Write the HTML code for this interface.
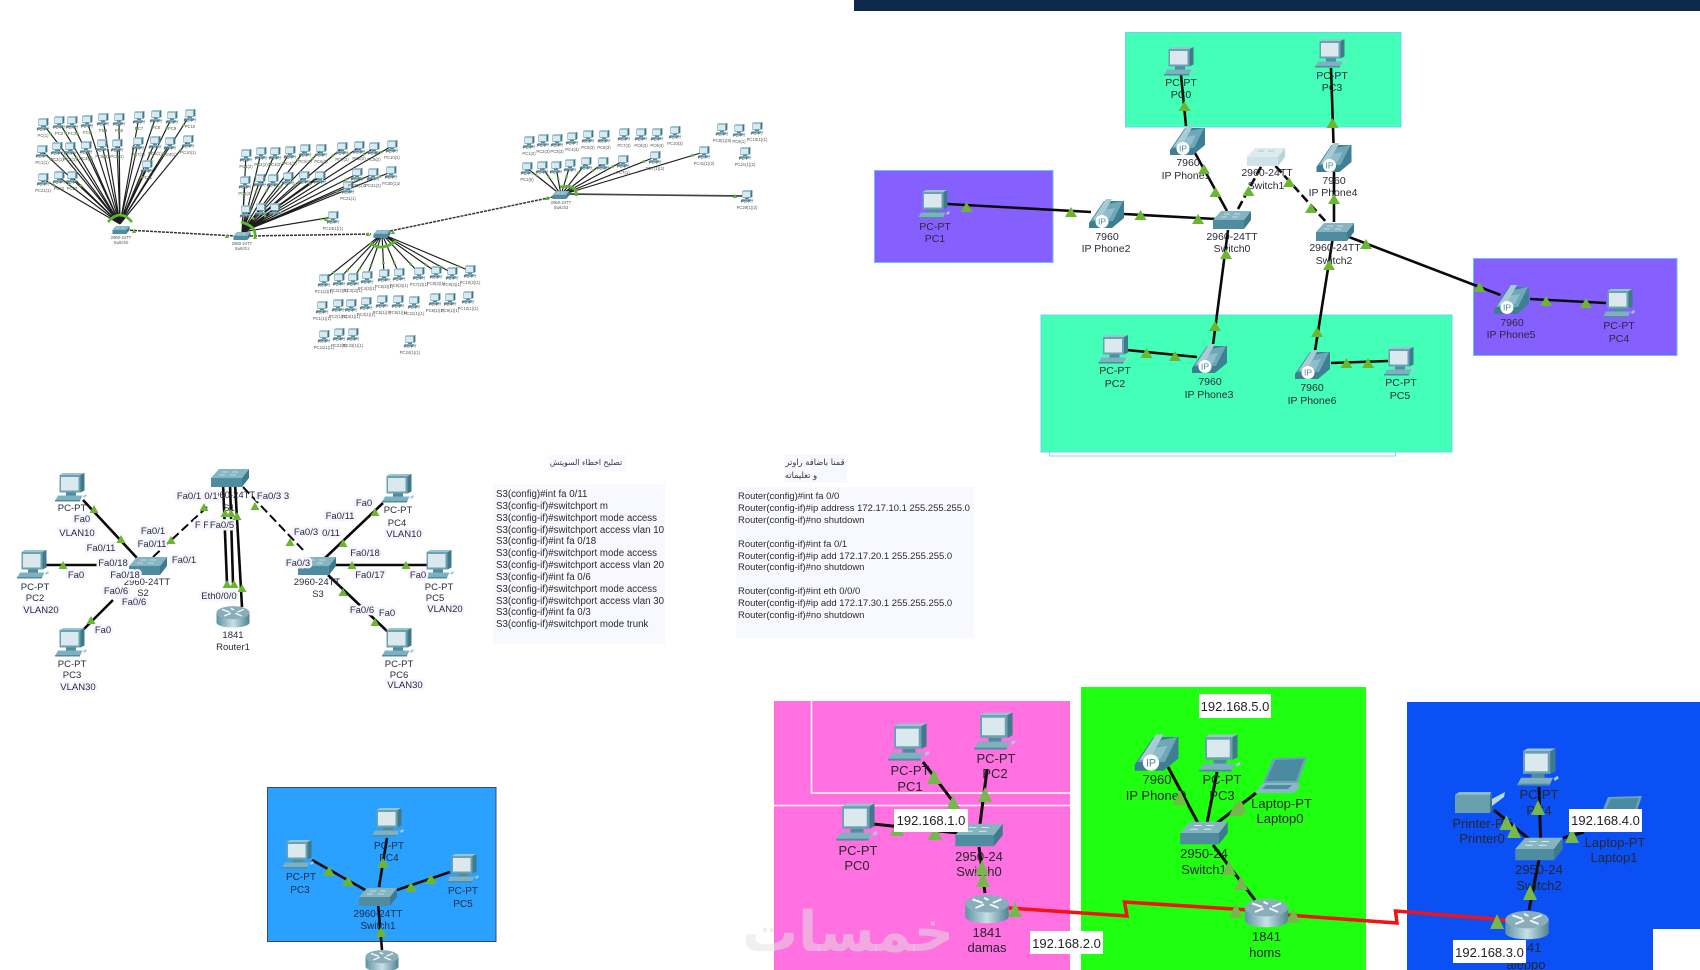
<!DOCTYPE html>
<html lang="en"><head><meta charset="utf-8"><title>Network diagrams</title>
<style>
html,body{margin:0;padding:0;background:#fff;width:1700px;height:970px;overflow:hidden}
svg{display:block;font-family:"Liberation Sans",sans-serif}
.l{fill:none;stroke:#0a0a0a;stroke-width:2.6;stroke-linecap:butt}
.d{stroke-dasharray:9 4}
.a text{font-size:10.5px;text-anchor:middle;fill:#2a2a3a}
.n text{font-size:9.5px;text-anchor:middle;fill:#2a2a3a}
.b text{font-size:9.5px;text-anchor:middle;fill:#2a2a3a;paint-order:stroke;stroke:#f5f5ff;stroke-width:5px;stroke-linejoin:round}
.c text{font-size:13px;text-anchor:middle;fill:#26262e}
.e text{font-size:10px;text-anchor:middle;fill:#1c2c44}
.s text{font-size:4.2px;text-anchor:middle;fill:#555}
.m text{font-size:9.7px;fill:#2a2a2a}
.m2 text{font-size:9.45px;fill:#2a2a2a}
.ip text{font-size:13px;text-anchor:middle;fill:#222}
.ip rect{fill:#fff}
.g use{fill:#6cb52e}
.g2 use{fill:#76b84c}
.ar{font-family:"DejaVu Sans","Liberation Sans",sans-serif;fill:#333}
</style></head><body>
<svg width="1700" height="970" viewBox="0 0 1700 970" xmlns="http://www.w3.org/2000/svg">
<defs>
<linearGradient id="rg" x1="0" x2="1" y1="0" y2="0"><stop offset="0" stop-color="#5f93a3"/><stop offset=".5" stop-color="#c9e0e6"/><stop offset="1" stop-color="#4f8394"/></linearGradient>
<polygon id="t" points="-6,5 6,5 0,-5"/>
<polygon id="tm" points="-4.500,4 4.500,4 0,-4"/>
<polygon id="t5" points="-7,7 7,7 0,-8"/>
<polygon id="ts" points="-2.200,2 2.200,2 0,-2" fill="#5cb531"/>
<g id="pc">
<polygon points="-11.500,-13 -8,-15 13.500,-15 9.500,-13" fill="#9cc3cd"/>
<polygon points="9.500,-13 13.500,-15 13.500,2.500 9.500,4.500" fill="#3f7a8c"/>
<rect x="-11.500" y="-13" width="21" height="17.500" fill="#6aa2b2"/>
<rect x="-10" y="-11" width="17.500" height="13.500" fill="#dbe8ee"/>
<rect x="-5" y="4.500" width="10" height="3" fill="#4f8ca0"/>
<polygon points="-13,7.500 11.500,7.500 9,13 -16,13" fill="#7fb0bf"/>
<rect x="-16" y="12" width="25" height="1.500" fill="#4f8ca0"/>
<polygon points="12,8 15,6 16,8 13,10" fill="#a9cbd4"/>
</g>
<g id="sp"><use href="#pc" transform="scale(.4)"/></g>
<g id="ph">
<polygon points="-17,10 -2,-12 18,-12 18,5 6,15 -17,15" fill="#3f7f93"/>
<polygon points="-3,-8 17,-12 7,8 -15,8" fill="#6ea8b8"/>
<path d="M-2,-3 L9,-5 L4,5 L-7,6Z" fill="#8fbdca"/>
<polygon points="-13,6 0,-14 6,-14 -6,7" fill="#a8ccd6"/>
<circle cx="-4" cy="8.500" r="6.500" fill="#fff"/>
<text x="-4" y="11.500" font-size="8.500" text-anchor="middle" fill="#4c8b9e">IP</text>
</g>
<g id="sw">
<polygon points="-19,0 -11,-9 19,-9 12,0" fill="#86b5c2"/>
<polygon points="12,0 19,-9 19,0 12,9" fill="#3e7a8e"/>
<rect x="-19" y="0" width="31" height="9" fill="#4f8ca0"/>
<path d="M-8,-6 h6 M2,-6 h6 M-11,-3 h6 M0,-3 h6" stroke="#d8e8ec" stroke-width=".8"/>
</g>
<g id="swp">
<polygon points="-19,0 -11,-9 19,-9 12,0" fill="#dcebee"/>
<polygon points="12,0 19,-9 19,0 12,9" fill="#b9d4da"/>
<rect x="-19" y="0" width="31" height="9" fill="#cfe2e6"/>
<path d="M-8,-6 h6 M2,-6 h6" stroke="#9fbfc7" stroke-width=".8"/>
</g>
<g id="ss"><use href="#sw" transform="scale(.45)"/></g>
<g id="ro">
<rect x="-15" y="-3" width="30" height="9" fill="url(#rg)"/>
<ellipse cx="0" cy="6" rx="15" ry="4.500" fill="url(#rg)"/>
<ellipse cx="0" cy="-3" rx="15" ry="6" fill="#89aeba"/>
<path d="M-10,-6 L-3,-3.500 M10,-6 L4,-3.500 M-8,0 L-2,-2.500 M8,0 L2,-2.500 M-2,-7 L1,-5.500" stroke="#f2f7f8" stroke-width="1.300"/>
</g>
<g id="lap">
<polygon points="-7,-17 27,-18 18,8 -17,8" fill="#6aa5b6"/>
<polygon points="-4.500,-15 24,-16 16,6 -14,6" fill="#4a8ba1"/>
<polygon points="-17,8 18,8 20,13 13,18 -25,18" fill="#8ab9c5"/>
<polygon points="-14,10 12,10 8,14 -18,14" fill="#4f8ca0"/>
</g>
<g id="pr">
<polygon points="-20,-8 -16,-11 16,-11 15,-8" fill="#8dbac6"/>
<rect x="-20" y="-8" width="35" height="18" fill="#6a9fae"/>
<polygon points="15,-8 17,-11 17,8 15,10" fill="#3c7688"/>
<polygon points="17,-4 30,-11 29,-6 17,3" fill="#b9d8df"/>
</g>
<path id="cl" d="M43,124L120,224M59,122L120,224M72,122L120,224M87,121L120,224M103,119L120,224M119,119L120,224M139,117L120,224M156,116L120,224M172,117L120,224M190,115L120,224M42,151L120,224M57,148L120,224M70,148L120,224M86,147L120,224M102,145L120,224M117,145L120,224M138,143L120,224M155,142L120,224M170,143L120,224M188,141L120,224M147,166L120,224M43,179L120,224M59,177L120,224M72,177L120,224M246,155L242,232M261,153L242,232M275,153L242,232M290,152L242,232M305,150L242,232M321,150L242,232M342,148L242,232M359,147L242,232M374,148L242,232M392,146L242,232M245,182L242,232M260,180L242,232M273,180L242,232M288,178L242,232M304,177L242,232M320,177L242,232M357,174L242,232M373,174L242,232M391,172L242,232M348,187L242,232M246,211L242,232M261,209L242,232M275,209L242,232M333,217L242,232M324,280L382,234M339,279L382,234M353,279L382,234M367,277L382,234M384,275L382,234M399,274L382,234M419,273L382,234M436,272L382,234M452,273L382,234M470,271L382,234M527,168L561,195M542,167L561,195M556,167L561,195M570,165L561,195M586,163L561,195M603,163L561,195M623,161L561,195M655,157L561,195M704,152L561,195"/>
</defs>

<!-- top bar -->
<rect x="854" y="0" width="846" height="11" fill="#0e2a4a"/>

<!-- SECTION 1 -->
<rect x="1125.500" y="32.500" width="275.500" height="94.500" fill="#44ffb8" stroke="#6cd0f0"/>
<rect x="874.500" y="170.500" width="178.500" height="92" fill="#8560ff" stroke="#66bfff"/>
<rect x="1473.500" y="258.500" width="203.500" height="97" fill="#8560ff" stroke="#66bfff"/>
<rect x="1049.500" y="440" width="346" height="16" fill="#fff" stroke="#8cd4f4"/>
<rect x="1041" y="315" width="411" height="137" fill="#44ffb8" stroke="#6cd0f0"/>
<g class="l">
<path d="M1181,75L1186,126M1331,68L1333.500,143M1195,153L1227,211M947.500,204L1091,212M1124,214L1216,219M1334,170L1334,222M1349,237L1500.500,295M1530,299L1606,303M1228,230L1213,345M1332.500,240L1315,351M1126.500,350L1197,357M1331,363L1388,361"/>
<path class="d" d="M1238,209L1262,165M1275.500,166L1327,223"/>
</g>
<use href="#pc" x="1180" y="62"/><use href="#pc" x="1331" y="54"/><use href="#pc" x="934" y="205"/><use href="#pc" x="1619" y="304"/><use href="#pc" x="1114.500" y="350"/><use href="#pc" x="1400" y="362"/>
<use href="#ph" x="1187" y="140"/><use href="#ph" x="1333.500" y="157"/><use href="#ph" x="1106" y="213"/><use href="#ph" x="1511" y="299"/><use href="#ph" x="1209" y="358"/><use href="#ph" x="1312" y="364"/>
<use href="#sw" x="1232" y="220"/><use href="#sw" x="1335" y="232"/><use href="#swp" x="1266" y="157"/>
<g class="a">
<text x="1181" y="86">PC-PT</text><text x="1181" y="98">PC0</text>
<text x="1332" y="79">PC-PT</text><text x="1332" y="91">PC3</text>
<text x="1188" y="166">7960</text><text x="1186" y="179">IP Phone1</text>
<text x="1267" y="176">2960-24TT</text><text x="1266" y="189">Switch1</text>
<text x="1334" y="184">7960</text><text x="1333" y="196">IP Phone4</text>
<text x="935" y="230">PC-PT</text><text x="935" y="242">PC1</text>
<text x="1107" y="240">7960</text><text x="1106" y="252">IP Phone2</text>
<text x="1232" y="240">2960-24TT</text><text x="1232" y="252">Switch0</text>
<text x="1335" y="251">2960-24TT</text><text x="1334" y="264">Switch2</text>
<text x="1512" y="326">7960</text><text x="1511" y="338">IP Phone5</text>
<text x="1619" y="329">PC-PT</text><text x="1619" y="342">PC4</text>
<text x="1115" y="374">PC-PT</text><text x="1115" y="387">PC2</text>
<text x="1210" y="385">7960</text><text x="1209" y="398">IP Phone3</text>
<text x="1312" y="391">7960</text><text x="1312" y="404">IP Phone6</text>
<text x="1401" y="386">PC-PT</text><text x="1400" y="399">PC5</text>
</g>
<g class="g">
<use href="#t" x="1184.500" y="106"/><use href="#t" x="1332.500" y="123"/><use href="#t" x="1204" y="169"/><use href="#t" x="1215.500" y="192"/><use href="#t" x="966.500" y="207"/><use href="#t" x="1071" y="212"/><use href="#t" x="1140.500" y="215"/><use href="#t" x="1198" y="219"/><use href="#t" x="1248.500" y="191"/><use href="#t" x="1289" y="182"/><use href="#t" x="1311" y="208"/><use href="#t" x="1334" y="199"/><use href="#t" x="1366" y="244"/><use href="#t" x="1479.500" y="287"/><use href="#t" x="1546" y="301"/><use href="#t" x="1586" y="303"/><use href="#t" x="1226" y="254"/><use href="#t" x="1215" y="326"/><use href="#t" x="1329" y="265"/><use href="#t" x="1317" y="332"/><use href="#t" x="1146.500" y="353"/><use href="#t" x="1175" y="356"/><use href="#t" x="1346.500" y="363"/><use href="#t" x="1368" y="363"/>
</g>

<!-- SECTION 2 -->
<use href="#cl" fill="none" stroke="#1c1c1c" stroke-width="1.150"/>
<use href="#cl" fill="none" stroke="#5cb531" stroke-width="2.400" stroke-dasharray="0 11 2.400 999"/>
<path d="M565,194L742,196" fill="none" stroke-width="1.700" stroke="#444"/>
<g fill="none" stroke="#333" stroke-width="1.500" stroke-dasharray="3 1">
<path d="M126,230L236,236M250,236L371,234M390,231L553,197"/>
</g>
<g fill="none" stroke="#5cb531" stroke-width="2.800">
<path d="M108,222Q120,208 132,222M241,222Q256,226 255,236M370,243Q381,252 396,241M560,187Q578,184 576,196"/>
</g>
<use href="#ss" x="121" y="230"/><use href="#ss" x="242" y="236"/><use href="#ss" x="382" y="234"/><use href="#ss" x="561" y="195"/>
<g>
<use href="#sp" x="43" y="124"/><use href="#sp" x="59" y="122"/><use href="#sp" x="72" y="122"/><use href="#sp" x="87" y="121"/><use href="#sp" x="103" y="119"/><use href="#sp" x="119" y="119"/><use href="#sp" x="139" y="117"/><use href="#sp" x="156" y="116"/><use href="#sp" x="172" y="117"/><use href="#sp" x="190" y="115"/>
<use href="#sp" x="42" y="151"/><use href="#sp" x="57" y="148"/><use href="#sp" x="70" y="148"/><use href="#sp" x="86" y="147"/><use href="#sp" x="102" y="145"/><use href="#sp" x="117" y="145"/><use href="#sp" x="138" y="143"/><use href="#sp" x="155" y="142"/><use href="#sp" x="170" y="143"/><use href="#sp" x="188" y="141"/><use href="#sp" x="147" y="166"/><use href="#sp" x="43" y="179"/><use href="#sp" x="59" y="177"/><use href="#sp" x="72" y="177"/>
<use href="#sp" x="246" y="155"/><use href="#sp" x="261" y="153"/><use href="#sp" x="275" y="153"/><use href="#sp" x="290" y="152"/><use href="#sp" x="305" y="150"/><use href="#sp" x="321" y="150"/><use href="#sp" x="342" y="148"/><use href="#sp" x="359" y="147"/><use href="#sp" x="374" y="148"/><use href="#sp" x="392" y="146"/>
<use href="#sp" x="245" y="182"/><use href="#sp" x="260" y="180"/><use href="#sp" x="273" y="180"/><use href="#sp" x="288" y="178"/><use href="#sp" x="304" y="177"/><use href="#sp" x="320" y="177"/><use href="#sp" x="357" y="174"/><use href="#sp" x="373" y="174"/><use href="#sp" x="391" y="172"/><use href="#sp" x="348" y="187"/><use href="#sp" x="246" y="211"/><use href="#sp" x="261" y="209"/><use href="#sp" x="275" y="209"/><use href="#sp" x="333" y="217"/>
<use href="#sp" x="529" y="142"/><use href="#sp" x="543" y="140"/><use href="#sp" x="557" y="140"/><use href="#sp" x="572" y="138"/><use href="#sp" x="588" y="136"/><use href="#sp" x="604" y="136"/><use href="#sp" x="624" y="134"/><use href="#sp" x="641" y="134"/><use href="#sp" x="657" y="134"/><use href="#sp" x="675" y="132"/>
<use href="#sp" x="527" y="168"/><use href="#sp" x="542" y="167"/><use href="#sp" x="556" y="167"/><use href="#sp" x="570" y="165"/><use href="#sp" x="586" y="163"/><use href="#sp" x="603" y="163"/><use href="#sp" x="623" y="161"/><use href="#sp" x="655" y="157"/><use href="#sp" x="704" y="152"/>
<use href="#sp" x="722" y="129"/><use href="#sp" x="739" y="130"/><use href="#sp" x="757" y="128"/><use href="#sp" x="745" y="153"/><use href="#sp" x="747" y="196"/>
<use href="#sp" x="324" y="280"/><use href="#sp" x="339" y="279"/><use href="#sp" x="353" y="279"/><use href="#sp" x="367" y="277"/><use href="#sp" x="384" y="275"/><use href="#sp" x="399" y="274"/><use href="#sp" x="419" y="273"/><use href="#sp" x="436" y="272"/><use href="#sp" x="452" y="273"/><use href="#sp" x="470" y="271"/>
<use href="#sp" x="322" y="307"/><use href="#sp" x="338" y="305"/><use href="#sp" x="351" y="305"/><use href="#sp" x="366" y="303"/><use href="#sp" x="382" y="301"/><use href="#sp" x="398" y="301"/><use href="#sp" x="414" y="302"/><use href="#sp" x="435" y="299"/><use href="#sp" x="450" y="299"/><use href="#sp" x="468" y="297"/>
<use href="#sp" x="324" y="336"/><use href="#sp" x="339" y="334"/><use href="#sp" x="353" y="334"/><use href="#sp" x="410" y="341"/>
</g>
<g class="s">
<text x="43" y="131">PC-PT</text><text x="43" y="137">PC(1)</text><text x="59" y="129">PC-PT</text><text x="59" y="135">PC2</text><text x="72" y="129">PC-PT</text><text x="72" y="135">PC3</text><text x="87" y="128">PC-PT</text><text x="87" y="134">PC4</text><text x="103" y="126">PC-PT</text><text x="103" y="132">PC5</text><text x="119" y="126">PC-PT</text><text x="119" y="132">PC6</text><text x="139" y="124">PC-PT</text><text x="139" y="130">PC7</text><text x="156" y="123">PC-PT</text><text x="156" y="129">PC8</text><text x="172" y="124">PC-PT</text><text x="172" y="130">PC9</text><text x="190" y="122">PC-PT</text><text x="190" y="128">PC10</text>
<text x="42" y="158">PC-PT</text><text x="42" y="164">PC1(1)</text><text x="57" y="155">PC-PT</text><text x="57" y="161">PC2(1)</text><text x="70" y="155">PC-PT</text><text x="70" y="161">PC3(1)</text><text x="86" y="154">PC-PT</text><text x="86" y="160">PC4(1)</text><text x="102" y="152">PC-PT</text><text x="102" y="158">PC5(1)</text><text x="117" y="152">PC-PT</text><text x="117" y="158">PC6(1)</text><text x="138" y="150">PC-PT</text><text x="138" y="156">PC7(1)</text><text x="155" y="149">PC-PT</text><text x="155" y="155">PC8(1)</text><text x="170" y="150">PC-PT</text><text x="170" y="156">PC9(1)</text><text x="188" y="148">PC-PT</text><text x="188" y="154">PC10(1)</text><text x="147" y="173">PC-PT</text><text x="147" y="179">PC11</text><text x="43" y="186">PC-PT</text><text x="43" y="192">PC21(1)</text><text x="59" y="184">PC-PT</text><text x="59" y="190">PC22</text><text x="72" y="184">PC-PT</text><text x="72" y="190">PC23</text>
<text x="246" y="162">PC-PT</text><text x="246" y="168">PC1(2)</text><text x="261" y="160">PC-PT</text><text x="261" y="166">PC2(2)</text><text x="275" y="160">PC-PT</text><text x="275" y="166">PC3(2)</text><text x="290" y="159">PC-PT</text><text x="290" y="165">PC4(2)</text><text x="305" y="157">PC-PT</text><text x="305" y="163">PC5(2)</text><text x="321" y="157">PC-PT</text><text x="321" y="163">PC6(2)</text><text x="342" y="155">PC-PT</text><text x="342" y="161">PC7(2)</text><text x="359" y="154">PC-PT</text><text x="359" y="160">PC8(2)</text><text x="374" y="155">PC-PT</text><text x="374" y="161">PC9(2)</text><text x="392" y="153">PC-PT</text><text x="392" y="159">PC10(2)</text>
<text x="245" y="189">PC-PT</text><text x="245" y="195">PC1(3)</text><text x="260" y="187">PC-PT</text><text x="273" y="187">PC-PT</text><text x="288" y="185">PC-PT</text><text x="304" y="184">PC-PT</text><text x="320" y="184">PC-PT</text><text x="357" y="181">PC-PT</text><text x="357" y="187">PC29(1)2</text><text x="373" y="181">PC-PT</text><text x="373" y="187">PC31(2)</text><text x="391" y="179">PC-PT</text><text x="391" y="185">PC30(1)2</text><text x="348" y="194">PC-PT</text><text x="348" y="200">PC21(1)</text><text x="246" y="218">PC-PT</text><text x="261" y="216">PC-PT</text><text x="275" y="216">PC-PT</text><text x="333" y="224">PC-PT</text><text x="333" y="230">PC24(1)(1)</text>
<text x="529" y="149">PC-PT</text><text x="529" y="155">PC1(3)</text><text x="543" y="147">PC-PT</text><text x="543" y="153">PC2(3)</text><text x="557" y="147">PC-PT</text><text x="557" y="153">PC3(3)</text><text x="572" y="145">PC-PT</text><text x="572" y="151">PC4(3)</text><text x="588" y="143">PC-PT</text><text x="588" y="149">PC5(3)</text><text x="604" y="143">PC-PT</text><text x="604" y="149">PC6(3)</text><text x="624" y="141">PC-PT</text><text x="624" y="147">PC7(3)</text><text x="641" y="141">PC-PT</text><text x="641" y="147">PC8(3)</text><text x="657" y="141">PC-PT</text><text x="657" y="147">PC9(3)</text><text x="675" y="139">PC-PT</text><text x="675" y="145">PC10(3)</text>
<text x="527" y="175">PC-PT</text><text x="527" y="181">PC1(5)</text><text x="542" y="174">PC-PT</text><text x="556" y="174">PC-PT</text><text x="570" y="172">PC-PT</text><text x="586" y="170">PC-PT</text><text x="603" y="170">PC-PT</text><text x="623" y="168">PC-PT</text><text x="623" y="174">PC7(1)</text><text x="655" y="164">PC-PT</text><text x="655" y="170">PC7(1)(2)</text><text x="704" y="159">PC-PT</text><text x="704" y="165">PC41(1)(2)</text>
<text x="722" y="136">PC-PT</text><text x="722" y="142">PC8(1)(9)</text><text x="739" y="137">PC-PT</text><text x="739" y="143">PC9(1)</text><text x="757" y="135">PC-PT</text><text x="757" y="141">PC10(1)(1)</text><text x="745" y="160">PC-PT</text><text x="745" y="166">PC21(1)(2)</text><text x="747" y="203">PC-PT</text><text x="747" y="209">PC29(1)(2)</text>
<text x="561" y="204">2960-24TT</text><text x="561" y="209">Switch3</text><text x="121" y="239">2960-24TT</text><text x="121" y="244">Switch0</text><text x="242" y="245">2960-24TT</text><text x="242" y="250">Switch1</text>
<text x="324" y="287">PC-PT</text><text x="324" y="293">PC1(2)(1)</text><text x="339" y="286">PC-PT</text><text x="339" y="292">PC2(2)(1)</text><text x="353" y="286">PC-PT</text><text x="353" y="292">PC3(2)(1)</text><text x="367" y="284">PC-PT</text><text x="367" y="290">PC4(2)(1)</text><text x="384" y="282">PC-PT</text><text x="384" y="288">PC5(2)(1)</text><text x="399" y="281">PC-PT</text><text x="399" y="287">PC6(2)(1)</text><text x="419" y="280">PC-PT</text><text x="419" y="286">PC7(2)(1)</text><text x="436" y="279">PC-PT</text><text x="436" y="285">PC8(2)(1)</text><text x="452" y="280">PC-PT</text><text x="452" y="286">PC9(2)(1)</text><text x="470" y="278">PC-PT</text><text x="470" y="284">PC10(2)(1)</text>
<text x="322" y="314">PC-PT</text><text x="322" y="320">PC1(1)(1)</text><text x="338" y="312">PC-PT</text><text x="338" y="318">PC2(1)(1)</text><text x="351" y="312">PC-PT</text><text x="351" y="318">PC3(1)(1)</text><text x="366" y="310">PC-PT</text><text x="366" y="316">PC4(1)(1)</text><text x="382" y="308">PC-PT</text><text x="382" y="314">PC5(1)(1)</text><text x="398" y="308">PC-PT</text><text x="398" y="314">PC6(1)(1)</text><text x="414" y="309">PC-PT</text><text x="414" y="315">PC21(1)(1)</text><text x="435" y="306">PC-PT</text><text x="435" y="312">PC8(1)(1)</text><text x="450" y="306">PC-PT</text><text x="450" y="312">PC9(1)(1)</text><text x="468" y="304">PC-PT</text><text x="468" y="310">PC10(1)(1)</text>
<text x="324" y="343">PC-PT</text><text x="324" y="349">PC21(1)(1)</text><text x="339" y="341">PC-PT</text><text x="339" y="347">PC22(1)</text><text x="353" y="341">PC-PT</text><text x="353" y="347">PC23(1)(1)</text><text x="410" y="348">PC-PT</text><text x="410" y="354">PC24(1)(1)</text>
</g>
<g>
<use href="#ts" x="134" y="231"/><use href="#ts" x="227" y="236"/><use href="#ts" x="255" y="237"/><use href="#ts" x="368" y="234"/><use href="#ts" x="393" y="232"/><use href="#ts" x="547" y="198"/><use href="#ts" x="735" y="196"/><use href="#ts" x="326" y="219"/>
</g>

<!-- SECTION 3 -->
<g class="l">
<path d="M83,500L137,558M45,565L125,565M83,630L113,600M325,558L383,503M335,565L427,565M328,575L388,632"/>
<path class="d" stroke-width="2" d="M153,557L207,507M243,487L305,552"/>
<path d="M223,483L227,583M230,483L233,583M235,483L242,607"/>
</g>
<use href="#sw" x="148" y="566"/><use href="#sw" x="230" y="478"/><use href="#sw" x="317" y="566"/>
<use href="#ro" transform="translate(233,616) scale(1.1)"/>
<use href="#pc" x="71" y="488"/><use href="#pc" x="33" y="565"/><use href="#pc" x="71" y="643"/><use href="#pc" x="398" y="489"/><use href="#pc" x="438" y="565"/><use href="#pc" x="398" y="643"/>
<g class="n">
<text x="233" y="638">1841</text><text x="233" y="650">Router1</text>
<text x="72" y="511">PC-PT</text><text x="35" y="590">PC-PT</text><text x="35" y="601">PC2</text>
<text x="72" y="667">PC-PT</text><text x="72" y="678">PC3</text>
<text x="232" y="498">2960-24TT</text><text x="229" y="511">S1</text>
<text x="147" y="585">2960-24TT</text><text x="143" y="596">S2</text>
<text x="317" y="585">2960-24TT</text><text x="318" y="597">S3</text>
<text x="398" y="513">PC-PT</text><text x="397" y="526">PC4</text>
<text x="439" y="590">PC-PT</text><text x="435" y="601">PC5</text>
<text x="399" y="667">PC-PT</text><text x="399" y="678">PC6</text>
</g>
<g class="b">
<text x="77" y="536">VLAN10</text><text x="41" y="613">VLAN20</text><text x="78" y="690">VLAN30</text><text x="404" y="537">VLAN10</text><text x="445" y="612">VLAN20</text><text x="405" y="688">VLAN30</text>
<text x="189" y="499">Fa0/1</text><text x="211" y="499">0/1</text><text x="273" y="499">Fa0/3 3</text>
<text x="153" y="534">Fa0/1</text><text x="152" y="547">Fa0/11</text><text x="184" y="563">Fa0/1</text><text x="101" y="551">Fa0/11</text><text x="113" y="566">Fa0/18</text><text x="125" y="578">Fa0/18</text><text x="116" y="594">Fa0/6</text><text x="134" y="605">Fa0/6</text><text x="76" y="578">Fa0</text><text x="103" y="633">Fa0</text><text x="82" y="522">Fa0</text>
<text x="202" y="528">F F</text><text x="222" y="528">Fa0/5</text><text x="219" y="599">Eth0/0/0</text>
<text x="306" y="535">Fa0/3</text><text x="331" y="536">0/11</text><text x="298" y="566">Fa0/3</text><text x="340" y="519">Fa0/11</text><text x="364" y="506">Fa0</text><text x="365" y="556">Fa0/18</text><text x="370" y="578">Fa0/17</text><text x="418" y="578">Fa0</text><text x="362" y="613">Fa0/6</text><text x="387" y="616">Fa0</text>
</g>
<g class="g">
<use href="#tm" x="94" y="509"/><use href="#tm" x="121" y="539"/><use href="#tm" x="63" y="565"/><use href="#tm" x="91" y="620"/><use href="#tm" x="171" y="540"/><use href="#tm" x="204" y="507"/><use href="#tm" x="225" y="513"/><use href="#tm" x="231" y="513"/><use href="#tm" x="237" y="516"/><use href="#tm" x="255" y="506"/><use href="#tm" x="290" y="542"/><use href="#tm" x="375" y="512"/><use href="#tm" x="343" y="543"/><use href="#tm" x="352" y="565"/><use href="#tm" x="406" y="565"/><use href="#tm" x="343" y="592"/><use href="#tm" x="375" y="622"/><use href="#tm" x="227" y="584"/><use href="#tm" x="234" y="584"/><use href="#tm" x="242" y="588"/>
</g>

<!-- SECTION 4 text -->
<rect x="493" y="484" width="172" height="160" fill="#f8f8ff"/>
<rect x="736" y="487" width="238" height="151" fill="#f8f8ff"/>
<rect x="548" y="455" width="78" height="16" fill="#f8f8ff"/>
<rect x="784" y="454" width="63" height="29" fill="#f8f8ff"/>
<text class="ar" x="586" y="465" font-size="7.700" text-anchor="middle">تصليح اخطاء السويتش</text>
<text class="ar" x="815" y="465" font-size="8.300" text-anchor="middle">قمنا باضافة راوتر</text>
<text class="ar" x="801" y="478" font-size="8.300" text-anchor="middle">و تعليماته</text>
<g class="m">
<text x="496" y="497">S3(config)#int fa 0/11</text>
<text x="496" y="509">S3(config-if)#switchport m</text>
<text x="496" y="521">S3(config-if)#switchport mode access</text>
<text x="496" y="533">S3(config-if)#switchport access vlan 10</text>
<text x="496" y="544">S3(config-if)#int fa 0/18</text>
<text x="496" y="556">S3(config-if)#switchport mode access</text>
<text x="496" y="568">S3(config-if)#switchport access vlan 20</text>
<text x="496" y="580">S3(config-if)#int fa 0/6</text>
<text x="496" y="592">S3(config-if)#switchport mode access</text>
<text x="496" y="604">S3(config-if)#switchport access vlan 30</text>
<text x="496" y="615">S3(config-if)#int fa 0/3</text>
<text x="496" y="627">S3(config-if)#switchport mode trunk</text>
</g>
<g class="m2">
<text x="738" y="499">Router(config)#int fa 0/0</text>
<text x="738" y="511">Router(config-if)#ip address 172.17.10.1 255.255.255.0</text>
<text x="738" y="523">Router(config-if)#no shutdown</text>
<text x="738" y="547">Router(config-if)#int fa 0/1</text>
<text x="738" y="559">Router(config-if)#ip add 172.17.20.1 255.255.255.0</text>
<text x="738" y="570">Router(config-if)#no shutdown</text>
<text x="738" y="594">Router(config-if)#int eth 0/0/0</text>
<text x="738" y="606">Router(config-if)#ip add 172.17.30.1 255.255.255.0</text>
<text x="738" y="618">Router(config-if)#no shutdown</text>
</g>

<!-- SECTION 5 -->
<rect x="774" y="701" width="296" height="269" fill="#ff70e0"/>
<path d="M811.500,701V793H1070M774,805.500H1070" fill="none" stroke="#fff" stroke-width="1.500"/>
<rect x="1081" y="687" width="285" height="283" fill="#1fff10"/>
<path d="M1407,702H1700V929H1653V970H1407Z" fill="#0a50f5"/>
<text x="848" y="951" font-size="56" font-weight="bold" text-anchor="middle" fill="#e2e2e2" fill-opacity=".5" style="font-family:'DejaVu Sans','Liberation Sans',sans-serif">خمسات</text>
<g class="l">
<path d="M923,762L958,808M987,770L980,824M873,824L958,833M979,847L985,893M1168,767L1198,823M1217,772L1207,823M1256,793L1217,823M1213,845L1255,900M1539,787L1540.500,838M1494,810L1529,839M1563,838L1584,832M1539,860L1529,910" style="stroke-width:3"/>
</g>
<path d="M1009,908L1127,916L1124.500,902L1249,910M1287.500,915L1397,923L1395.500,911L1506,920" fill="none" stroke="#f01414" stroke-width="3.500"/>
<use href="#pc" transform="translate(909,743) scale(1.3)"/><use href="#pc" transform="translate(995,732) scale(1.3)"/><use href="#pc" transform="translate(857,823) scale(1.3)"/><use href="#pc" transform="translate(1220,754) scale(1.3)"/><use href="#pc" transform="translate(1538,768) scale(1.3)"/>
<use href="#ph" transform="translate(1156,752) scale(1.25)"/>
<use href="#lap" x="1280" y="775"/><use href="#lap" x="1615" y="814"/><use href="#pr" x="1475" y="803"/>
<use href="#sw" transform="translate(979,835) scale(1.25)"/><use href="#sw" transform="translate(1204,833) scale(1.25)"/><use href="#sw" transform="translate(1539,849) scale(1.25)"/>
<use href="#ro" transform="translate(987,908) scale(1.45)"/><use href="#ro" transform="translate(1266.500,912) scale(1.45)"/><use href="#ro" transform="translate(1527,924) scale(1.45)"/>
<g class="c">
<text x="910" y="775">PC-PT</text><text x="910" y="791">PC1</text>
<text x="996" y="763">PC-PT</text><text x="995" y="778">PC2</text>
<text x="858" y="855">PC-PT</text><text x="857" y="870">PC0</text>
<text x="979" y="861">2950-24</text><text x="979" y="876">Switch0</text>
<text x="987" y="937">1841</text><text x="987" y="952">damas</text>
<text x="1157" y="784">7960</text><text x="1156" y="800">IP Phone0</text>
<text x="1222" y="784">PC-PT</text><text x="1222" y="800">PC3</text>
<text x="1281.500" y="808">Laptop-PT</text><text x="1280" y="823">Laptop0</text>
<text x="1204" y="858">2950-24</text><text x="1204" y="874">Switch1</text>
<text x="1266.500" y="941">1841</text><text x="1265" y="957">homs</text>
<text x="1539" y="799">PC-PT</text><text x="1539" y="815">PC4</text>
<text x="1482" y="828">Printer-PT</text><text x="1482" y="843">Printer0</text>
<text x="1615" y="847">Laptop-PT</text><text x="1614" y="862">Laptop1</text>
<text x="1539" y="874">2950-24</text><text x="1539" y="890">Switch2</text>
<text x="1527" y="952">1841</text><text x="1526" y="969">aleppo</text>
</g>
<g class="g2">
<use href="#t5" x="934" y="777"/><use href="#t5" x="953" y="803"/><use href="#t5" x="985" y="795"/><use href="#t5" x="897" y="829"/><use href="#t5" x="935" y="833"/><use href="#t5" x="982" y="868"/><use href="#t5" x="983" y="880"/><use href="#t5" x="1015" y="910"/><use href="#t5" x="1180" y="798"/><use href="#t5" x="1240" y="806"/><use href="#t5" x="1236" y="809"/><use href="#t5" x="1229" y="868"/><use href="#t5" x="1241" y="883"/><use href="#t5" x="1236" y="911"/><use href="#t5" x="1293.500" y="916"/><use href="#t5" x="1497" y="922"/><use href="#t5" x="1506.500" y="823"/><use href="#t5" x="1514" y="831"/><use href="#t5" x="1538" y="808"/><use href="#t5" x="1572" y="836"/><use href="#t5" x="1530" y="893"/>
</g>
<g class="ip">
<rect x="1199" y="694" width="72" height="24"/><text x="1235" y="711">192.168.5.0</text>
<rect x="894" y="809" width="74" height="23"/><text x="931" y="825">192.168.1.0</text>
<rect x="1030" y="931" width="73" height="23"/><text x="1066.500" y="948">192.168.2.0</text>
<rect x="1453" y="940" width="73" height="23"/><text x="1489.500" y="957">192.168.3.0</text>
<rect x="1569" y="809" width="73" height="23"/><text x="1605.500" y="825">192.168.4.0</text>
</g>

<!-- SECTION 6 -->
<rect x="267.500" y="787.500" width="228.500" height="154" fill="#2aa0ff" stroke="#3a4a5a"/>
<g class="l">
<path d="M312,860L367,891M387,838L379,887M450,872L397,890M378,903L382,950"/>
</g>
<use href="#pc" x="298" y="855"/><use href="#pc" x="388" y="823"/><use href="#pc" x="463" y="869"/>
<use href="#sw" x="378" y="897"/>
<use href="#ro" transform="translate(382,960) scale(1.1)"/>
<g class="e">
<text x="301" y="880">PC-PT</text><text x="300" y="893">PC3</text>
<text x="389" y="849">PC-PT</text><text x="389" y="861">PC4</text>
<text x="463" y="894">PC-PT</text><text x="463" y="907">PC5</text>
<text x="378" y="917">2960-24TT</text><text x="378" y="929">Switch1</text>
</g>
<g class="g">
<use href="#t" x="329" y="871"/><use href="#t" x="348" y="881"/><use href="#t" x="383" y="863"/><use href="#t" x="381" y="932"/><use href="#t" x="411" y="887"/><use href="#t" x="431" y="879"/>
</g>
</svg>
</body></html>
